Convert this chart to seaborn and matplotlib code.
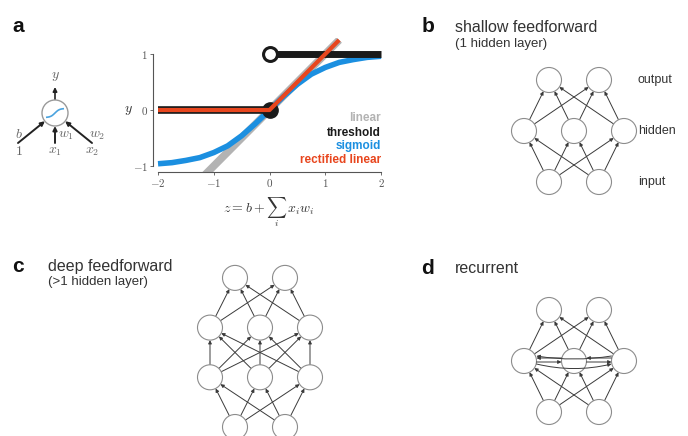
import numpy as np
import matplotlib
matplotlib.use('Agg')
import matplotlib.pyplot as plt
from matplotlib.patches import Circle
import seaborn as sns

# activation functions
z_vals = [-2, -1.75, -1.5, -1.25, -1, -0.75, -0.5, -0.25, 0, 0.25, 0.5, 0.75, 1, 1.25, 1.5, 1.75, 2]
sigmoid_y = [-0.96, -0.94, -0.9, -0.85, -0.76, -0.64, -0.46, -0.24, 0, 0.24, 0.46, 0.64, 0.76, 0.85, 0.9, 0.94, 0.96]
linear_z = [-1.2, 1.25]
linear_y = [-1.2, 1.25]
relu_z = [-2, 0, 1.25]
relu_y = [0, 0, 1.25]
thresh_lo_z = [-2, 0]
thresh_lo_y = [0, 0]
thresh_hi_z = [0, 2]
thresh_hi_y = [1, 1]
legend_names = ["linear", "threshold", "sigmoid", "rectified linear"]
legend_colors = ["#b3b3b3", "#1a1a1a", "#1b8fe0", "#e8461e"]

# network layer sizes (bottom -> top)
shallow_layers = [2, 3, 2]
shallow_names = ["input", "hidden", "output"]
deep_layers = [2, 3, 3, 2]
recurrent_layers = [2, 3, 2]

sns.set_theme(style="white")
plt.rcParams['font.family'] = ['Liberation Sans', 'DejaVu Sans']
plt.rcParams['mathtext.fontset'] = 'cm'
plt.rcParams['lines.solid_capstyle'] = 'butt'

fig = plt.figure(figsize=(6.88, 4.36), dpi=100)
ax0 = fig.add_axes([0, 0, 1, 1])
ax0.set_xlim(0, 688)
ax0.set_ylim(436, 0)
ax0.axis('off')

R = 12.5
ARROW = "#3a3a3a"


def arrow(p1, p2, r1=R, r2=R, lw=0.7, ms=5, color=ARROW, z=2, cs=None):
    p1 = np.array(p1, float)
    p2 = np.array(p2, float)
    u = (p2 - p1) / np.linalg.norm(p2 - p1)
    a = p1 + u * r1
    b = p2 - u * r2
    props = dict(arrowstyle='-|>', color=color, lw=lw, mutation_scale=ms,
                 shrinkA=0, shrinkB=0)
    if cs:
        props['connectionstyle'] = cs
    ax0.annotate('', xy=b, xytext=a, arrowprops=props, zorder=z)


def network(layers, cx, y_bottom, dx=50, dy=50):
    pos = []
    for i, n in enumerate(layers):
        y = y_bottom - i * dy
        xs = cx + (np.arange(n) - (n - 1) / 2) * dx
        pos.append([(x, y) for x in xs])
    for lo, hi in zip(pos[:-1], pos[1:]):
        for p in lo:
            for q in hi:
                arrow(p, q)
    for layer in pos:
        for p in layer:
            ax0.add_patch(Circle(p, R, facecolor='white', edgecolor='#8c8c8c',
                                 lw=0.8, zorder=3))
    return pos


# ---- panel a: activation plot
ax = fig.add_axes([153 / 688, 1 - 172 / 436, 230 / 688, 134 / 436])
ax.patch.set_alpha(0)
sns.lineplot(x=linear_z, y=linear_y, ax=ax, color=legend_colors[0], lw=5.5, sort=False)
sns.lineplot(x=z_vals, y=sigmoid_y, ax=ax, color=legend_colors[2], lw=4, sort=False)
sns.lineplot(x=thresh_lo_z, y=thresh_lo_y, ax=ax, color=legend_colors[1], lw=5.5, sort=False)
sns.lineplot(x=thresh_hi_z, y=thresh_hi_y, ax=ax, color=legend_colors[1], lw=5, sort=False)
ax.plot([0], [0], 'o', color=legend_colors[1], ms=11, zorder=4)
sns.lineplot(x=relu_z, y=relu_y, ax=ax, color=legend_colors[3], lw=3, sort=False, zorder=5)
ax.plot([0], [1], 'o', mfc='white', mec=legend_colors[1], mew=2.2, ms=10, zorder=6)
ax.set_xlim(-2.09, 2.036)
ax.set_ylim(-1.107, 1.286)
for s in ['top', 'right']:
    ax.spines[s].set_visible(False)
ax.spines['left'].set_bounds(-1, 1)
ax.spines['bottom'].set_bounds(-2, 2)
for s in ['left', 'bottom']:
    ax.spines[s].set_color('#555555')
    ax.spines[s].set_linewidth(0.8)
ax.set_xticks([-2, -1, 0, 1, 2])
ax.set_xticklabels(['$-2$', '$-1$', '$0$', '$1$', '$2$'])
ax.set_yticks([-1, 0, 1])
ax.set_yticklabels(['$-1$', '$0$', '$1$'])
ax.tick_params(axis='both', length=2, width=0.6, colors='#555555', labelsize=8, pad=1.5,
               direction='out', left=True, bottom=True)
for name, col, yy in zip(legend_names, legend_colors, [-0.14, -0.41, -0.64, -0.89]):
    ax.text(2.0, yy, name, color=col, fontsize=8.5, fontweight='bold', ha='right', va='center')

ax0.text(128, 110, '$y$', fontsize=10, color='#333333', ha='center', va='center')
ax0.text(269, 212, r'$z = b + \sum_i\, x_i w_i$', fontsize=10, color='#333333',
         ha='center', va='center')

# single neuron
nc = (55, 113)
nr = 13
ax0.add_patch(Circle(nc, nr, facecolor='white', edgecolor='#9a9a9a', lw=1.0, zorder=3))
sx = nc[0] + np.array(z_vals) * 4.5
sy = nc[1] - np.array(sigmoid_y) * 4.5
ax0.plot(sx, sy, color='#4aa3df', lw=1.2, zorder=4)
arrow(nc, (55, 87), r1=nr, r2=0, lw=1.2, ms=6, color='#222222')
for src in [(18, 143), (55, 143), (92, 143)]:
    arrow(src, nc, r1=0, r2=nr, lw=1.4, ms=6, color='#222222')
mcol = '#666666'
ax0.text(55, 76, '$y$', fontsize=10, color=mcol, ha='center', va='center')
ax0.text(19, 134, '$b$', fontsize=10, color=mcol, ha='center', va='center')
ax0.text(19, 151, '$1$', fontsize=10, color=mcol, ha='center', va='center')
ax0.text(66, 135, '$w_1$', fontsize=10, color=mcol, ha='center', va='center')
ax0.text(55, 151, '$x_1$', fontsize=10, color=mcol, ha='center', va='center')
ax0.text(97, 135, '$w_2$', fontsize=10, color=mcol, ha='center', va='center')
ax0.text(92, 151, '$x_2$', fontsize=10, color=mcol, ha='center', va='center')

# ---- panel letters and titles
for letter, (lx, ly) in zip('abcd', [(18, 26), (428, 26), (18, 266), (428, 268)]):
    ax0.text(lx, ly, letter, fontsize=15, fontweight='bold', color='#111111',
             ha='center', va='center')
tcol = '#333333'
ax0.text(455, 28, 'shallow feedforward', fontsize=11.5, color=tcol, va='center')
ax0.text(455, 44, '(1 hidden layer)', fontsize=9.5, color=tcol, va='center')
ax0.text(48, 266, 'deep feedforward', fontsize=11.5, color=tcol, va='center')
ax0.text(48, 282, '(>1 hidden layer)', fontsize=9.5, color=tcol, va='center')
ax0.text(455, 268, 'recurrent', fontsize=11.5, color=tcol, va='center')

# ---- panel b
pos_b = network(shallow_layers, 574, 182, dy=51)
for layer, name in zip(pos_b, shallow_names):
    ax0.text(638, layer[0][1], name, fontsize=9, color=tcol, va='center')

# ---- panel c
network(deep_layers, 260, 427, dy=49.7)

# ---- panel d
pos_d = network(recurrent_layers, 574, 412, dy=51)
hl, hm, hr = pos_d[1]
for a_, b_ in [(hl, hm), (hm, hr)]:
    arrow((b_[0], b_[1] - 3), (a_[0], a_[1] - 3), lw=0.7, z=4)
    arrow((a_[0], a_[1] + 1), (b_[0], b_[1] + 1), lw=0.7, z=4)
arrow((hr[0], hr[1] - 5), (hl[0], hl[1] - 5), lw=0.7, z=4, cs='arc3,rad=-0.08')
arrow((hl[0], hl[1] + 3), (hr[0], hr[1] + 3), lw=0.7, z=4, cs='arc3,rad=0.12')

fig.savefig('out.png', dpi=100)
